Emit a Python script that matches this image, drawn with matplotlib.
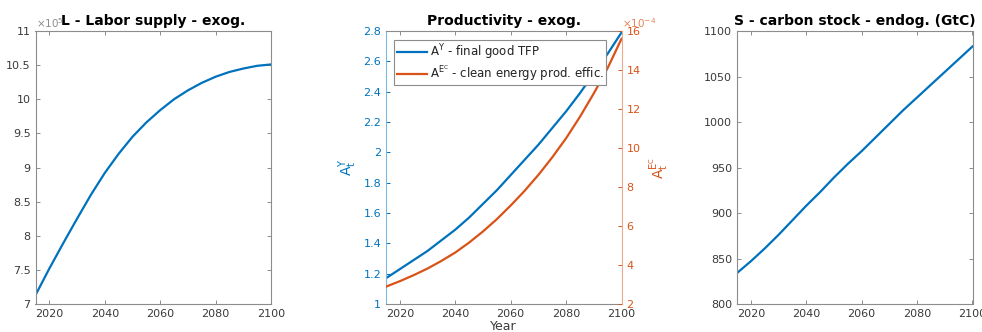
import numpy as np
import matplotlib
matplotlib.use('Agg')
import matplotlib.pyplot as plt

# model paths, 5-year steps
years = np.arange(2015, 2101, 5)
labor = [7.13, 7.52, 7.89, 8.25, 8.60, 8.92, 9.20, 9.45, 9.66, 9.84,
         10.00, 10.13, 10.24, 10.33, 10.40, 10.45, 10.49, 10.51]   # x 1e5
tfpY = [1.17, 1.23, 1.29, 1.35, 1.42, 1.49, 1.57, 1.66, 1.75, 1.85,
        1.95, 2.05, 2.16, 2.27, 2.39, 2.52, 2.65, 2.79]
effEC = [2.89, 3.17, 3.48, 3.82, 4.21, 4.64, 5.15, 5.72, 6.35, 7.05,
         7.80, 8.62, 9.52, 10.5, 11.6, 12.8, 14.1, 15.6]           # x 1e-4
carbon = [834, 847, 861, 876, 892, 908, 923, 939, 954, 968,
          983, 998, 1013, 1027, 1041, 1055, 1069, 1083]

xticks = [2020, 2040, 2060, 2080, 2100]
blue = '#0072BD'
orange = '#D95319'
grey = '#8c8c8c'
txt = '#3a3a3a'

plt.rcParams['font.family'] = 'DejaVu Sans'
plt.rcParams['font.size'] = 8

fig = plt.figure(figsize=(9.82, 3.32), dpi=100)
W, H = 982., 332.
bot = (H - 304) / H
hgt = 273 / H
wid = 235.5 / W

def style(ax, col=grey, lcol=txt):
    for s in ax.spines.values():
        s.set_color(col)
        s.set_linewidth(0.8)
    ax.tick_params(direction='in', length=3, width=0.7, color=col,
                   labelcolor=lcol, labelsize=8, top=True, right=True)
    ax.set_xlim(2015, 2100)
    ax.set_xticks(xticks)

#Labor supply
ax1 = fig.add_axes([35.5 / W, bot, wid, hgt])
ax1.plot(years, labor, color=blue, linewidth=1.6)
ax1.set_ylim(7, 11)
ax1.set_yticks([7, 7.5, 8, 8.5, 9, 9.5, 10, 10.5, 11])
ax1.set_yticklabels(['7', '7.5', '8', '8.5', '9', '9.5', '10', '10.5', '11'])
style(ax1)
ax1.set_title('L - Labor supply - exog.', fontsize=10, fontweight='bold', pad=4)
ax1.text(0, 1.003, r'$\times10^{5}$', transform=ax1.transAxes, ha='left',
         va='bottom', fontsize=7.5, color=grey)

#Productivity, two y axes
ax2 = fig.add_axes([386 / W, bot, wid, hgt])
l1, = ax2.plot(years, tfpY, color=blue, linewidth=1.6)
ax2.set_ylim(1, 2.8)
ax2.set_yticks(np.arange(1, 2.81, 0.2))
ax2.set_yticklabels(['1', '1.2', '1.4', '1.6', '1.8', '2', '2.2', '2.4', '2.6', '2.8'])
style(ax2)
ax2.tick_params(right=False)
ax2.tick_params(axis='y', colors=blue, labelcolor=blue)
ax2.spines['left'].set_color('#7fb8de')
ax2.spines['right'].set_visible(False)
ax2.set_xlabel('Year', fontsize=9, color=txt, labelpad=1)
ax2.set_ylabel(r'$\mathrm{A}^{\mathrm{Y}}_{\mathrm{t}}$', fontsize=10, color=blue, labelpad=3)

ax2b = ax2.twinx()
l2, = ax2b.plot(years, effEC, color=orange, linewidth=1.6)
ax2b.set_ylim(2, 16)
ax2b.set_yticks(np.arange(2, 17, 2))
for s in ax2b.spines.values():
    s.set_visible(False)
ax2b.spines['right'].set_visible(True)
ax2b.spines['right'].set_color('#eca98c')
ax2b.spines['right'].set_linewidth(0.8)
ax2b.tick_params(axis='y', direction='in', length=3, width=0.7, color=orange,
                 labelcolor=orange, labelsize=8)
ax2b.set_ylabel(r'$\mathrm{A}^{\mathrm{E}^{\mathrm{C}}}_{\mathrm{t}}$', fontsize=10,
                color=orange, labelpad=5)
ax2b.text(1.0, 1.003, r'$\times10^{-4}$', transform=ax2b.transAxes, ha='left',
          va='bottom', fontsize=7.5, color='#e5835a')
ax2.set_title('Productivity - exog.', fontsize=10, fontweight='bold', pad=4)
leg = ax2b.legend([l1, l2], [r'A$^{\mathrm{Y}}$ - final good TFP',
                             r'A$^{\mathrm{E}^{\mathrm{C}}}$ - clean energy prod. effic.'],
                  loc='upper left', bbox_to_anchor=(0.035, 0.967), fontsize=8.5,
                  fancybox=False, framealpha=1, edgecolor=grey,
                  borderpad=0.2, handlelength=2.6, handletextpad=0.2,
                  labelspacing=0.12, borderaxespad=0)
leg.get_frame().set_linewidth(0.8)
for t in leg.get_texts():
    t.set_color('#222222')

#Carbon stock
ax3 = fig.add_axes([737 / W, bot, wid, hgt])
ax3.plot(years, carbon, color=blue, linewidth=1.6)
ax3.set_ylim(800, 1100)
ax3.set_yticks(np.arange(800, 1101, 50))
style(ax3)
ax3.set_title('S - carbon stock - endog. (GtC)', fontsize=10, fontweight='bold', pad=4)

fig.savefig('out.png', dpi=100)
